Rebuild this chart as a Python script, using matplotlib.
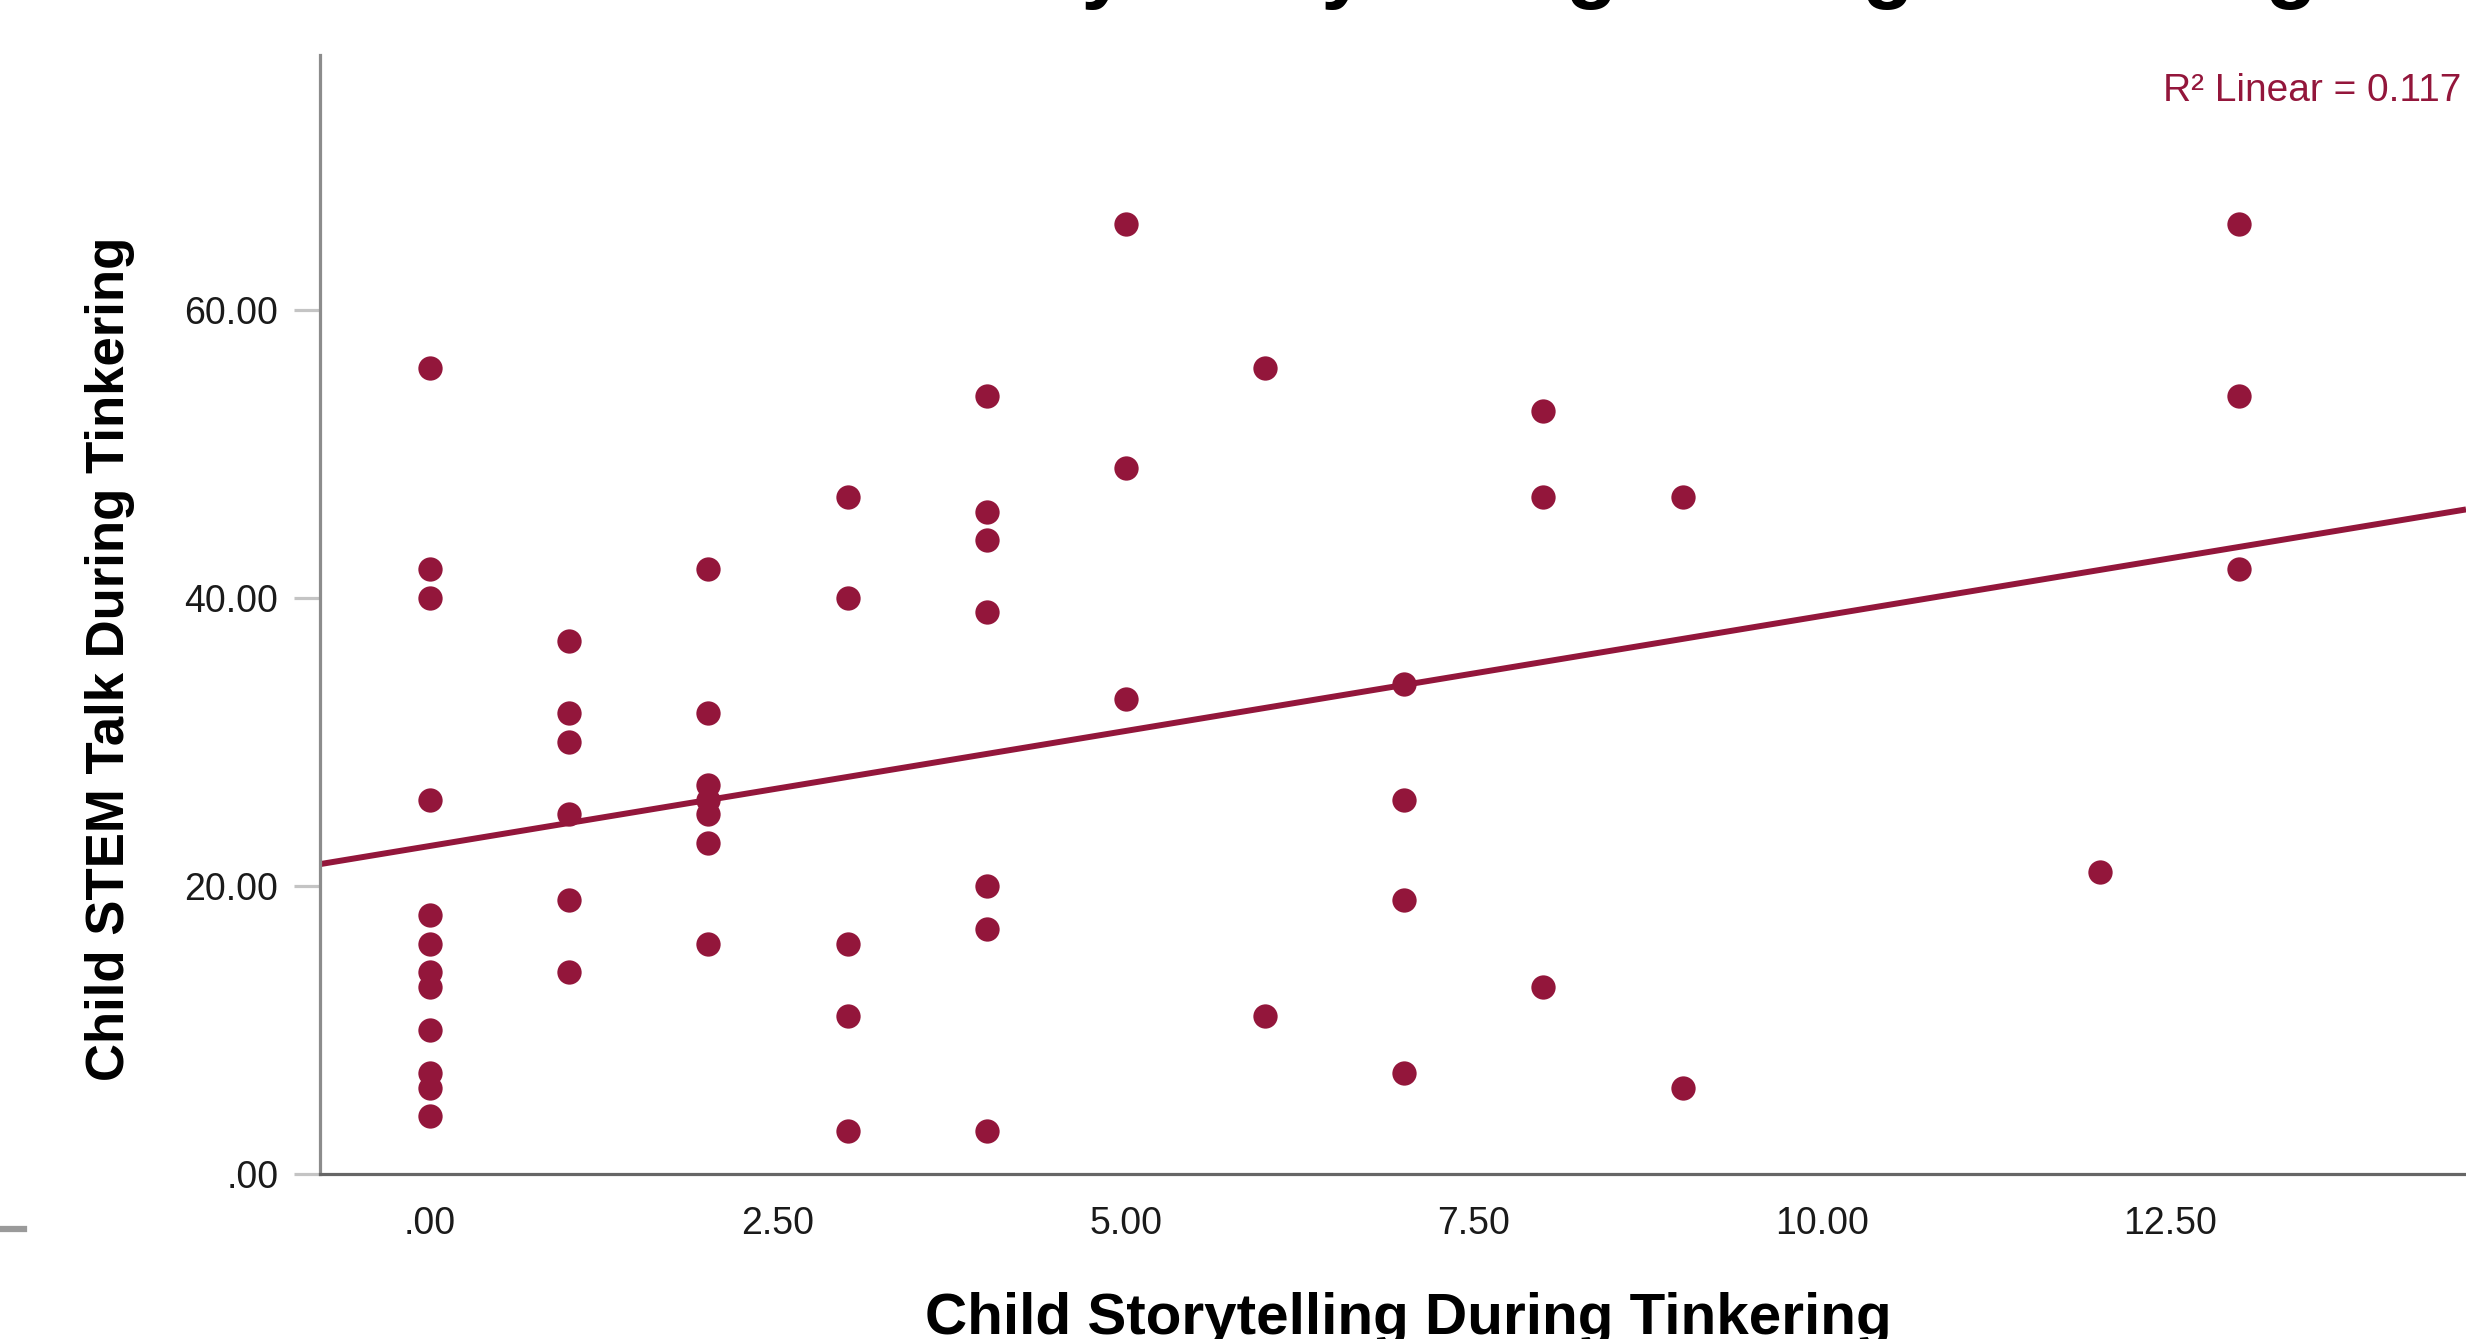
import matplotlib

matplotlib.use("Agg")

import matplotlib.pyplot as plt
import numpy as np
from matplotlib import font_manager
from matplotlib.lines import Line2D

# Child storytelling count (x) and child STEM talk count (y), one pair per child
storytelling = [
    0, 0, 0, 0, 0, 0, 0, 0, 0, 0, 0, 0,
    1, 1, 1, 1, 1, 1,
    2, 2, 2, 2, 2, 2, 2,
    3, 3, 3, 3, 3,
    4, 4, 4, 4, 4, 4, 4,
    5, 5, 5,
    6, 6,
    7, 7, 7, 7,
    8, 8, 8,
    9, 9,
    12,
    13, 13, 13,
]
stem_talk = [
    56, 42, 40, 26, 18, 16, 14, 13, 10, 7, 6, 4,
    37, 32, 30, 25, 19, 14,
    42, 32, 27, 26, 25, 23, 16,
    47, 40, 16, 11, 3,
    54, 46, 44, 39, 20, 17, 3,
    66, 49, 33,
    56, 11,
    34, 26, 19, 7,
    53, 47, 13,
    47, 6,
    21,
    66, 54, 42,
]

x_ticks = [0, 2.5, 5, 7.5, 10, 12.5]
x_tick_labels = [".00", "2.50", "5.00", "7.50", "10.00", "12.50"]
y_ticks = [0, 20, 40, 60]
y_tick_labels = [".00", "20.00", "40.00", "60.00"]

title_text = "Child STEM Talk by Storytelling During Tinkering"
x_label = "Child Storytelling During Tinkering"
y_label = "Child STEM Talk During Tinkering"
fit_note = "R\u00b2 Linear = 0.117"

MARK = "#93163b"


def pick_font(names: list[str]) -> str:
    for name in names:
        try:
            font_manager.findfont(name, fallback_to_default=False)
            return name
        except ValueError:
            continue
    return "DejaVu Sans"


font = pick_font(["Liberation Sans", "Arial"])

fig = plt.figure(figsize=(24.66, 13.39), dpi=100)
ax = fig.add_axes([0.1298, 0.1232, 0.8702, 0.8357])

ax.plot(storytelling, stem_talk, linestyle="none", marker="o",
        markersize=17.5, color=MARK, markeredgewidth=0)

x_min, x_max = -0.79, 14.63
slope, intercept = np.polyfit(storytelling, stem_talk, 1)
line_x = np.array([x_min, x_max])
ax.plot(line_x, intercept + slope * line_x, color=MARK, linewidth=4.3,
        solid_capstyle="butt")

ax.set_xlim(x_min, x_max)
ax.set_ylim(0, 77.7)

for side in ("top", "right"):
    ax.spines[side].set_visible(False)
ax.spines["left"].set_color("#8c8c8c")
ax.spines["left"].set_linewidth(2.3)
ax.spines["bottom"].set_color("#666666")
ax.spines["bottom"].set_linewidth(2.3)

ax.set_xticks(x_ticks)
ax.set_xticklabels(x_tick_labels)
ax.set_yticks(y_ticks)
ax.set_yticklabels(y_tick_labels)
ax.tick_params(axis="x", length=0, pad=23, labelsize=27, labelcolor="#1a1a1a")
ax.tick_params(axis="y", length=19, width=2.3, color="#c4c4c4", pad=11,
               labelsize=27, labelcolor="#1a1a1a")
for label in ax.get_xticklabels() + ax.get_yticklabels():
    label.set_fontfamily(font)

fig.text(0.5710, 1 - 1334 / 1339, x_label, ha="center", va="baseline",
         fontsize=42, fontweight="bold", family=font)
fig.text(0.0446, 1 - 659 / 1339, y_label, ha="center", va="center",
         rotation=90, fontsize=38, fontweight="bold", family=font)
# title sits mostly above the crop, only descenders show
fig.text(2317 / 2466, 1 + 8 / 1339, title_text, ha="right", va="baseline",
         fontsize=61, fontweight="bold", family=font)
fig.text(0.998, 1 - 91 / 1339, fit_note, ha="right", va="center",
         fontsize=28, color=MARK, family=font)

# stray frame edge at the lower left of the cropped export
fig.add_artist(Line2D([0, 24 / 2466], [1 - 1229 / 1339] * 2,
                      color="#9a9a9a", linewidth=4.5))

fig.savefig("out.png", dpi=100)
